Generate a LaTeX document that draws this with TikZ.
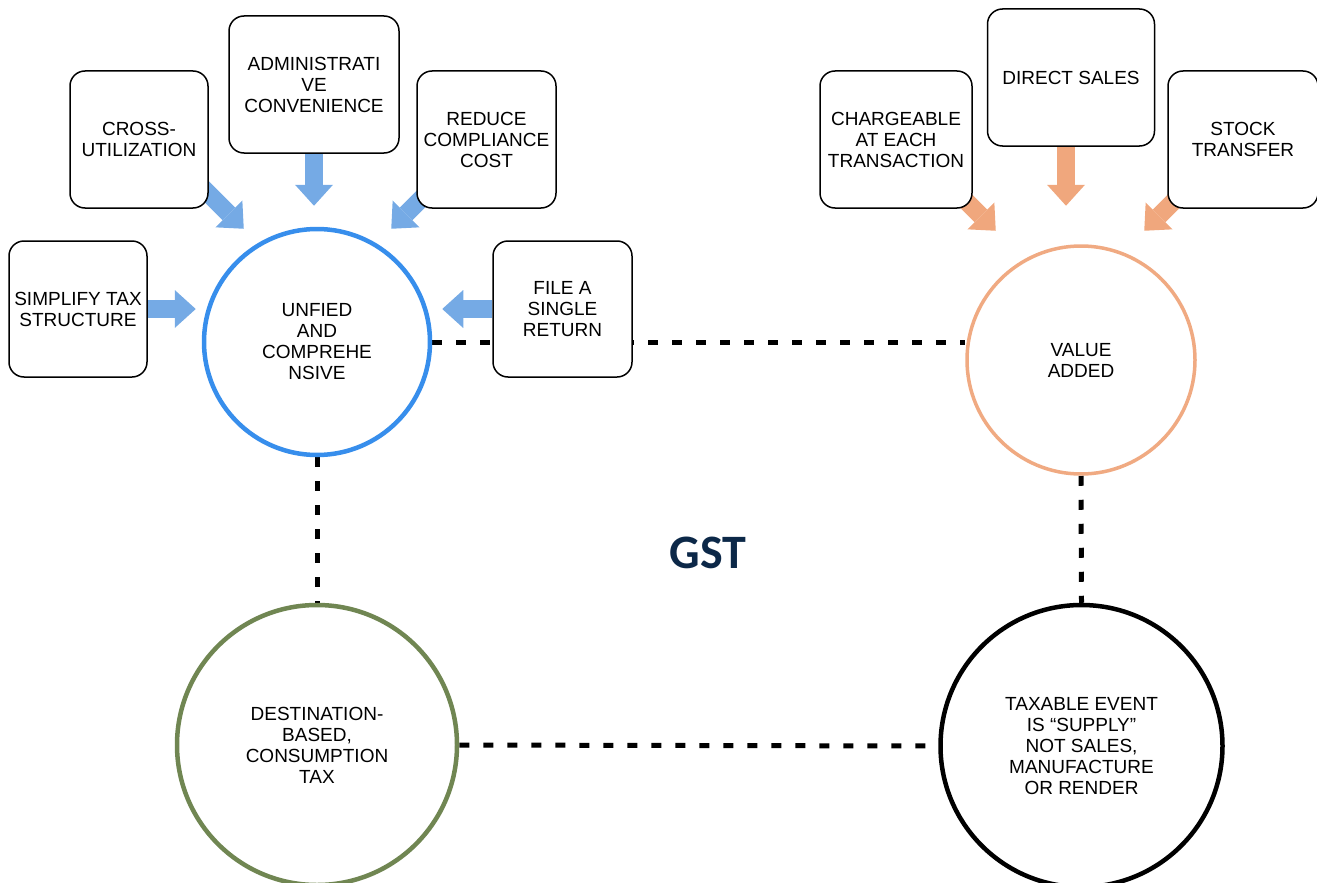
\documentclass[tikz,border=0pt]{standalone}
\usepackage{fontspec}
\setmainfont{Liberation Sans}
\newfontfamily\gstfont{Carlito}
\usetikzlibrary{arrows.meta,calc}
\pgfdeclarelayer{bg}
\pgfsetlayers{bg,main}
\definecolor{cblue}{RGB}{55,142,236}
\definecolor{bluearr}{RGB}{117,170,229}
\definecolor{corange}{RGB}{240,170,130}
\definecolor{orangearr}{RGB}{240,167,125}
\definecolor{cgreen}{RGB}{112,134,82}
\definecolor{gstnavy}{RGB}{12,40,72}
\tikzset{
  box/.style={draw=black, line width=1.5pt, rounded corners=15pt, fill=white,
    align=center, inner sep=0pt, font=\fontsize{19}{21}\selectfont},
  circ/.style={circle, fill=white, align=center, inner sep=0pt,
    font=\fontsize{19}{21}\selectfont},
  dotline/.style={draw=black, line width=5pt, dash pattern=on 10pt off 14pt},
  fat/.style={line width=18pt, -{Triangle[length=21pt,width=38pt,line width=0pt]}},
  bfat/.style={fat, draw=bluearr},
  ofat/.style={fat, draw=orangearr}
}
\begin{document}
\begin{tikzpicture}[x=1pt,y=-1pt]
\useasboundingbox (0,0) rectangle (1317,883);

% boxes
\node[box, minimum width=138pt, minimum height=136pt] (simplify) at (78,309) {SIMPLIFY TAX\\STRUCTURE};
\node[box, minimum width=138pt, minimum height=137pt] (cross) at (139,139.5) {CROSS-\\UTILIZATION};
\node[box, minimum width=170pt, minimum height=137pt] (admin) at (314,84.5) {ADMINISTRATI\\VE\\CONVENIENCE};
\node[box, minimum width=139pt, minimum height=137pt] (reduce) at (486.5,139.5) {REDUCE\\COMPLIANCE\\COST};
\node[box, minimum width=139pt, minimum height=136pt] (file) at (562.5,309) {FILE A\\SINGLE\\RETURN};
\node[box, minimum width=152pt, minimum height=137pt] (charge) at (896,139.5) {CHARGEABLE\\AT EACH\\TRANSACTION};
\node[box, minimum width=167pt, minimum height=137pt] (direct) at (1071,77.5) {DIRECT SALES};
\node[box, minimum width=150pt, minimum height=137pt] (stock) at (1243,139.5) {STOCK\\TRANSFER};

% circles
\node[circ, draw=cblue, line width=4.5pt, minimum size=226pt] (unified) at (317,342) {UNFIED\\AND\\COMPREHE\\NSIVE};
\node[circ, draw=corange, line width=3.5pt, minimum size=228pt] (value) at (1081,360) {VALUE\\ADDED};
\node[circ, draw=cgreen, line width=4.5pt, minimum size=280pt] (dest) at (317,745) {DESTINATION-\\BASED,\\CONSUMPTION\\TAX};
\node[circ, draw=black, line width=4.5pt, minimum size=282pt] (taxable) at (1081.5,746) {TAXABLE EVENT\\IS “SUPPLY”\\NOT SALES,\\MANUFACTURE\\OR RENDER};

% title
\node[font=\gstfont\bfseries\fontsize{48}{48}\selectfont, text=gstnavy] (gst) at (708,553) {GST};

% arrow tips
\coordinate (t2) at ($(cross.south east)+(35,20)$);
\coordinate (t4) at ($(reduce.south west)+(-25,20)$);
\coordinate (o1) at ($(charge.south east)+(23,22)$);
\coordinate (o3) at ($(stock.south west)+(-23,22)$);

\begin{pgfonlayer}{bg}
\draw[dotline] (unified.east) -- (unified.east -| value.west);
\draw[dotline] (unified.south) -- (dest.north);
\draw[dotline] (value.south) -- (taxable.north);
\draw[dotline] (dest.east) -- (taxable.west);

\draw[bfat] (simplify.east) -- ++(48,0);
\draw[bfat] ($(t2)+(-55,-55)$) -- (t2);
\draw[bfat] ($(admin.south)+(0,-10)$) -- ++(0,62);
\draw[bfat] ($(t4)+(55,-55)$) -- (t4);
\draw[bfat] (file.west) -- ++(-50,0);

\draw[ofat] ($(o1)+(-55,-55)$) -- (o1);
\draw[ofat] ($(direct.south)+(-5,-10)$) -- ++(0,69);
\draw[ofat] ($(o3)+(55,-55)$) -- (o3);
\end{pgfonlayer}
\end{tikzpicture}
\end{document}
